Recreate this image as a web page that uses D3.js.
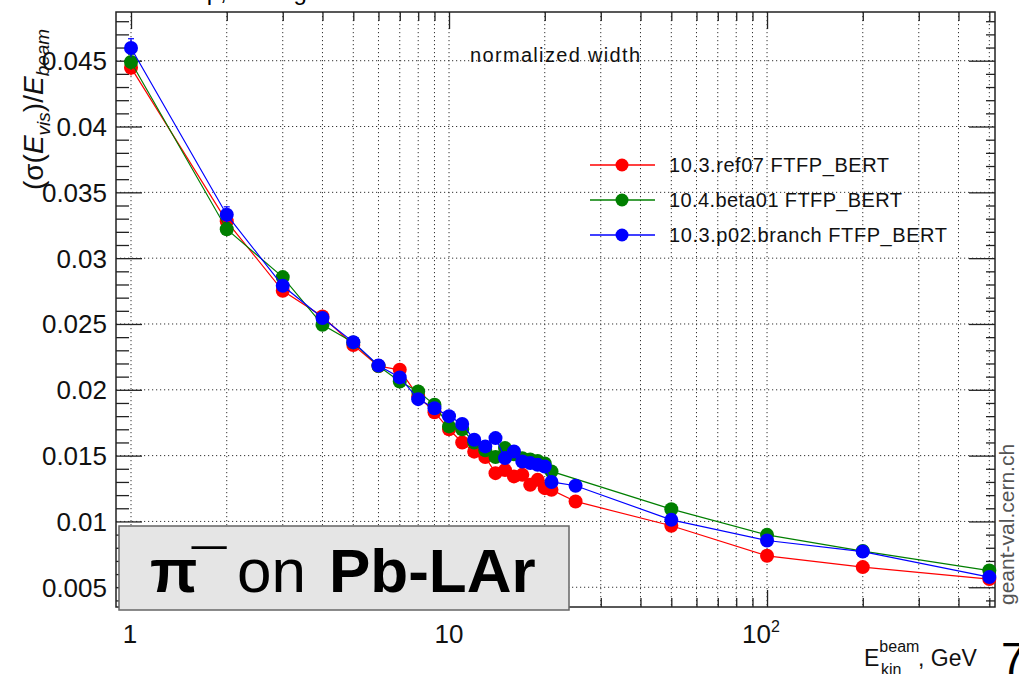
<!DOCTYPE html>
<html>
<head>
<meta charset="utf-8">
<script src="https://cdn.jsdelivr.net/npm/d3@7"></script>
<style>
  body { margin: 0; background: #fff; }
  svg { font-family: "Liberation Sans", Arial, sans-serif; }
  .grid line { stroke: #333; stroke-width: 1; stroke-dasharray: 1.2,2.8; }
  .tick-label { font-size: 26px; fill: #111; }
</style>
</head>
<body>
<svg width="1019" height="674"></svg>
<script>
// **** Data ****
var energies = [1, 2, 3, 4, 5, 6, 7, 8, 9, 10, 11, 12, 13, 14, 15, 16, 17, 18, 19, 20, 21, 25, 50, 100, 200, 500];

var widthRef07 = [0.04447, 0.0328, 0.02752, 0.02557, 0.0234, 0.0218, 0.02152, 0.0195, 0.0183, 0.0170, 0.0160, 0.0153, 0.0149, 0.01367, 0.0139, 0.01342, 0.01354, 0.01278, 0.01316, 0.01253, 0.0124, 0.01152, 0.00967, 0.00739, 0.00653, 0.00562];
var widthBeta01 = [0.0449, 0.0322, 0.02856, 0.02494, 0.0236, 0.0218, 0.02063, 0.01987, 0.01886, 0.01722, 0.0170, 0.0160, 0.0154, 0.0149, 0.01557, 0.0151, 0.0148, 0.0147, 0.0146, 0.0144, 0.0138, null, 0.01093, 0.00898, 0.00775, 0.00627];
var widthP02 = [0.04597, 0.0333, 0.0279, 0.02545, 0.02362, 0.02185, 0.02094, 0.01929, 0.0186, 0.0180, 0.0174, 0.0162, 0.0157, 0.01633, 0.01481, 0.01531, 0.01455, 0.01443, 0.0143, 0.01417, 0.0130, 0.01271, 0.01012, 0.00855, 0.00771, 0.00577];

var errRef07 = [0.0006, 0.0005, 0.0004, 0.0003, 0.0003, 0.0002, 0.0002, 0.0002, 0.0002, 0.0002, 0.0002, 0.0002, 0.0002, 0.0002, 0.0002, 0.0002, 0.0002, 0.0002, 0.0002, 0.0002, 0.0002, 0.0002, 0.0001, 0.0001, 0.0001, 0.0001];
var errBeta01 = [0.0006, 0.0005, 0.0004, 0.0003, 0.0003, 0.0002, 0.0002, 0.0002, 0.0002, 0.0002, 0.0002, 0.0002, 0.0002, 0.0002, 0.0002, 0.0002, 0.0002, 0.0002, 0.0002, 0.0002, 0.0002, null, 0.0001, 0.0001, 0.0001, 0.0001];
var errP02 = [0.0007, 0.0006, 0.0004, 0.0003, 0.0003, 0.0002, 0.0002, 0.0002, 0.0002, 0.0002, 0.0002, 0.0002, 0.0002, 0.0002, 0.0002, 0.0002, 0.0002, 0.0002, 0.0002, 0.0002, 0.0002, 0.0002, 0.0001, 0.0001, 0.0001, 0.0001];

var seriesNames = ["10.3.ref07 FTFP_BERT", "10.4.beta01 FTFP_BERT", "10.3.p02.branch FTFP_BERT"];
var seriesColors = ["#ff0000", "#007f00", "#0000ff"];
var seriesValues = [widthRef07, widthBeta01, widthP02];
var seriesErrors = [errRef07, errBeta01, errP02];

var yTickValues = [0.005, 0.01, 0.015, 0.02, 0.025, 0.03, 0.035, 0.04, 0.045];
var yTickLabels = ["0.005", "0.01", "0.015", "0.02", "0.025", "0.03", "0.035", "0.04", "0.045"];
var xLabelValues = [1, 10, 100];

// **** Scales ****
var plotLeft = 116, plotRight = 995, plotTop = 12, plotBottom = 607;
var xScale = d3.scaleLog().domain([0.897, 521]).range([plotLeft, plotRight]);
var yScale = d3.scaleLinear().domain([0.0035, 0.0487]).range([plotBottom, plotTop]);

var svg = d3.select('svg');

// title, cut off by the top edge of the slide
svg.append("text")
    .attr("x", 80).attr("y", 0)
    .attr("font-size", 24)
    .text("Pb-LAr setup, average resolution");

// **** Grid ****
var xGridValues = [];
[1, 10, 100].forEach(function(dec) {
    for (var k = 1; k <= 9; k++) {
        var v = dec * k;
        if (v >= xScale.domain()[0] && v <= xScale.domain()[1]) xGridValues.push(v);
    }
});
var grid = svg.append("g").attr("class", "grid");
grid.selectAll("line.gx").data(xGridValues).enter().append("line")
    .attr("x1", function(d) { return xScale(d); }).attr("x2", function(d) { return xScale(d); })
    .attr("y1", plotTop).attr("y2", plotBottom);
grid.selectAll("line.gy").data(yTickValues).enter().append("line")
    .attr("y1", function(d) { return yScale(d); }).attr("y2", function(d) { return yScale(d); })
    .attr("x1", plotLeft).attr("x2", plotRight);

// **** Axes (ROOT style: ticks inside, on all four sides) ****
var yMinor = d3.range(4, 49).map(function(i) { return i / 1000; })
    .filter(function(v) { return v >= 0.0035 && v <= 0.0487; });
var yMajorSet = yTickValues.map(function(v) { return v.toFixed(3); });
var yMinorOnly = yMinor.filter(function(v) { return yMajorSet.indexOf(v.toFixed(3)) < 0; });

svg.append('g').attr('class', 'y axis')
    .attr('transform', 'translate(' + plotLeft + ',0)')
    .call(d3.axisRight(yScale).tickValues(yTickValues).tickSize(26).tickFormat(""));
svg.append('g').attr('class', 'y axis minor')
    .attr('transform', 'translate(' + plotLeft + ',0)')
    .call(d3.axisRight(yScale).tickValues(yMinorOnly).tickSize(13).tickFormat(""));
svg.append('g').attr('class', 'y axis')
    .attr('transform', 'translate(' + plotRight + ',0)')
    .call(d3.axisLeft(yScale).tickValues(yTickValues).tickSize(26).tickFormat(""));
svg.append('g').attr('class', 'y axis minor')
    .attr('transform', 'translate(' + plotRight + ',0)')
    .call(d3.axisLeft(yScale).tickValues(yMinorOnly).tickSize(9).tickFormat(""));

var xMinorOnly = xGridValues.filter(function(v) { return xLabelValues.indexOf(v) < 0; });
svg.append('g').attr('class', 'x axis')
    .attr('transform', 'translate(0,' + plotBottom + ')')
    .call(d3.axisTop(xScale).tickValues(xLabelValues).tickSize(17).tickFormat(""));
svg.append('g').attr('class', 'x axis minor')
    .attr('transform', 'translate(0,' + plotBottom + ')')
    .call(d3.axisTop(xScale).tickValues(xMinorOnly).tickSize(9).tickFormat(""));
svg.append('g').attr('class', 'x axis')
    .attr('transform', 'translate(0,' + plotTop + ')')
    .call(d3.axisBottom(xScale).tickValues(xLabelValues).tickSize(17).tickFormat(""));
svg.append('g').attr('class', 'x axis minor')
    .attr('transform', 'translate(0,' + plotTop + ')')
    .call(d3.axisBottom(xScale).tickValues(xMinorOnly).tickSize(9).tickFormat(""));

svg.selectAll(".axis path.domain").remove();
svg.selectAll(".axis line").attr("stroke", "#222").attr("stroke-width", 1.3);

// frame
svg.append("rect")
    .attr("x", plotLeft).attr("y", plotTop)
    .attr("width", plotRight - plotLeft).attr("height", plotBottom - plotTop)
    .attr("fill", "none").attr("stroke", "#222").attr("stroke-width", 1.5);

// y tick labels
svg.selectAll("text.ylab").data(yTickValues).enter().append("text")
    .attr("class", "tick-label")
    .attr("x", plotLeft - 9)
    .attr("y", function(d) { return yScale(d); })
    .attr("dy", "0.36em")
    .attr("text-anchor", "end")
    .text(function(d, i) { return yTickLabels[i]; });

// x tick labels: 1, 10, 10^2
var xl = svg.append("g");
xl.append("text").attr("class", "tick-label").attr("x", xScale(1) - 1).attr("y", 643)
    .attr("text-anchor", "middle").attr("font-size", 23).text("1");
xl.append("text").attr("class", "tick-label").attr("x", xScale(10)).attr("y", 643)
    .attr("text-anchor", "middle").attr("font-size", 23).text("10");
var t100 = xl.append("text").attr("class", "tick-label").attr("x", xScale(100) - 6).attr("y", 643)
    .attr("text-anchor", "middle").attr("font-size", 23);
t100.append("tspan").text("10");
t100.append("tspan").attr("font-size", 16).attr("dy", -11).text("2");

// **** Series: lines, error bars, markers ****
seriesValues.forEach(function(values, s) {
    var pts = energies.map(function(e, i) { return { e: e, v: values[i], err: seriesErrors[s][i] }; })
        .filter(function(d) { return d.v !== null; });
    var color = seriesColors[s];
    var line = d3.line()
        .x(function(d) { return xScale(d.e); })
        .y(function(d) { return yScale(d.v); });
    var g = svg.append("g").attr("class", "series-" + s);
    g.append("path").datum(pts)
        .attr("d", line).attr("fill", "none")
        .attr("stroke", color).attr("stroke-width", 1.2);
    g.selectAll("line.err").data(pts).enter().append("line")
        .attr("x1", function(d) { return xScale(d.e); }).attr("x2", function(d) { return xScale(d.e); })
        .attr("y1", function(d) { return yScale(d.v + d.err); })
        .attr("y2", function(d) { return yScale(d.v - d.err); })
        .attr("stroke", color).attr("stroke-width", 1.2);
    g.selectAll("line.cap").data(pts).enter().append("line")
        .attr("x1", function(d) { return xScale(d.e) - 3; }).attr("x2", function(d) { return xScale(d.e) + 3; })
        .attr("y1", function(d) { return yScale(d.v + d.err); })
        .attr("y2", function(d) { return yScale(d.v + d.err); })
        .attr("stroke", color).attr("stroke-width", 1.2);
    g.selectAll("circle").data(pts).enter().append("circle")
        .attr("cx", function(d) { return xScale(d.e); })
        .attr("cy", function(d) { return yScale(d.v); })
        .attr("r", 7)
        .attr("fill", color);
});

// **** Legend ****
var legendY = [165, 200, 235];
var legendW = [220, 233, 278];
seriesNames.forEach(function(name, s) {
    var lg = svg.append("g").attr("transform", "translate(0," + legendY[s] + ")");
    lg.append("line").attr("x1", 590).attr("x2", 655).attr("y1", 0).attr("y2", 0)
        .attr("stroke", seriesColors[s]).attr("stroke-width", 1.5);
    lg.append("circle").attr("cx", 622).attr("cy", 0).attr("r", 6.5).attr("fill", seriesColors[s]);
    lg.append("text").attr("x", 669).attr("y", 7)
        .attr("font-size", 20).attr("fill", "#111")
        .attr("textLength", legendW[s]).attr("lengthAdjust", "spacing")
        .text(name);
});

svg.append("text").attr("x", 470).attr("y", 62)
    .attr("font-size", 20).attr("fill", "#111")
    .attr("textLength", 170).attr("lengthAdjust", "spacing")
    .text("normalized width");

// **** Axis titles ****
var yt = svg.append("text")
    .attr("transform", "translate(43,190) rotate(-90)")
    .attr("font-size", 28).attr("fill", "#111");
yt.append("tspan").text("(σ(");
yt.append("tspan").attr("font-style", "italic").text("E");
yt.append("tspan").attr("font-style", "italic").attr("font-size", 19).attr("dy", 7).text("vis");
yt.append("tspan").attr("dy", -7).text(")/");
yt.append("tspan").attr("font-style", "italic").text("E");
yt.append("tspan").attr("font-style", "italic").attr("font-size", 19).attr("dy", 6).text("beam");

var xt = svg.append("text").attr("x", 864).attr("y", 666)
    .attr("font-size", 23).attr("fill", "#111");
xt.append("tspan").text("E");
xt.append("tspan").attr("font-size", 16).attr("dy", -14).text("beam");
xt.append("tspan").attr("font-size", 16).attr("x", 881).attr("dy", 23).text("kin");
xt.append("tspan").attr("x", 918).attr("dy", -9).text(", GeV");

// site credit on the right
svg.append("text")
    .attr("transform", "translate(1014,605) rotate(-90)")
    .attr("font-size", 21).attr("fill", "#555")
    .text("geant-val.cern.ch");

// **** Label box ****
svg.append("rect")
    .attr("x", 119).attr("y", 526).attr("width", 450).attr("height", 84)
    .attr("fill", "#e5e5e5").attr("stroke", "#666").attr("stroke-width", 1.5);
var lb = svg.append("text").attr("y", 592).attr("font-size", 62).attr("fill", "#000");
lb.append("tspan").attr("x", 150).attr("font-weight", "bold").text("π");
lb.append("tspan").attr("x", 192).attr("font-weight", "bold").text("¯");
lb.append("tspan").attr("x", 237).text("on");
lb.append("tspan").attr("x", 329).attr("font-weight", "bold").text("Pb-LAr");

// slide page number
svg.append("rect").attr("x", 986).attr("y", 630).attr("width", 33).attr("height", 44).attr("fill", "#fff");
svg.append("text").attr("x", 1001).attr("y", 674).attr("font-size", 45).attr("fill", "#000").text("7");
</script>
</body>
</html>
